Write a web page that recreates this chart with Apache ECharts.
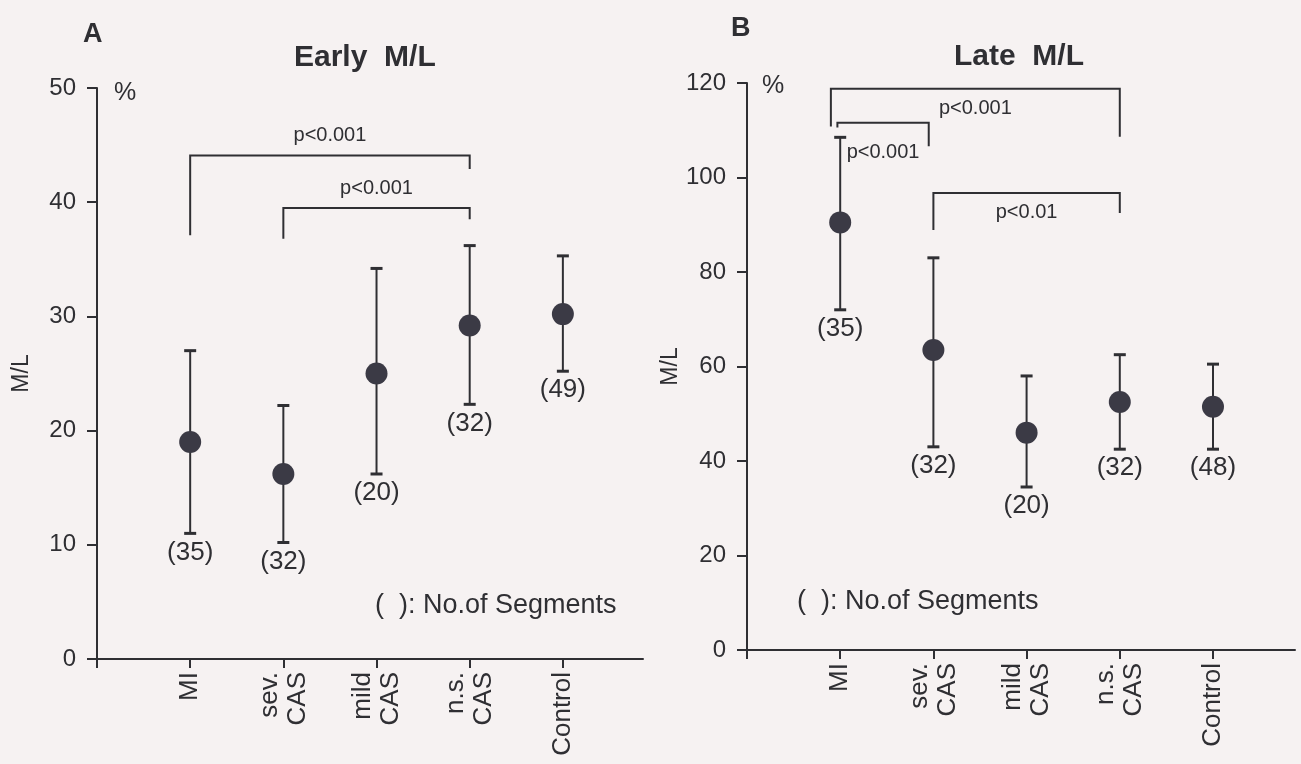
<!DOCTYPE html>
<html>
<head>
<meta charset="utf-8">
<title>Early / Late M/L</title>
<script src="https://cdn.jsdelivr.net/npm/echarts@6/dist/echarts.min.js"></script>
<style>
  html, body { margin: 0; padding: 0; background: #f6f2f2; }
  #main { width: 1301px; height: 764px; }
</style>
</head>
<body>
<div id="main"></div>
<script>
var groups = ['MI', 'sev.\nCAS', 'mild\nCAS', 'n.s.\nCAS', 'Control'];

// panel A - early M/L (%)
var earlyMean = [19, 16.2, 25, 29.2, 30.2];
var earlyHigh = [27, 22.2, 34.2, 36.2, 35.3];
var earlyLow  = [11, 10.2, 16.2, 22.3, 25.2];
var earlyN    = [35, 32, 20, 32, 49];
var earlyTicks = [0, 10, 20, 30, 40, 50];
// brackets: [left x, right x, top, left foot, right foot, text level]
var earlyBrackets = [
  [0, 3, 44.1, 37.1, 42.9, 45.8],
  [1, 3, 39.5, 36.8, 38.5, 41.2]
];
var earlyBracketText = ['p<0.001', 'p<0.001'];

// panel B - late M/L (%)
var lateMean = [90.5, 63.5, 46, 52.5, 51.5];
var lateHigh = [108.5, 83, 58, 62.5, 60.5];
var lateLow  = [72, 43, 34.5, 42.5, 42.5];
var lateN    = [35, 32, 20, 32, 48];
var lateTicks = [0, 20, 40, 60, 80, 100, 120];
var lateBrackets = [
  [-0.1, 3, 118.8, 110.8, 108.6, 114.6],
  [-0.03, 0.95, 111.6, 110.6, 106.6, 105.2],
  [1, 3, 96.7, 88.9, 92.5, 92.7]
];
var lateBracketText = ['p<0.001', 'p<0.001', 'p<0.01'];

var ink = '#2f2f33';
var dot = '#3b3a45';
var font = '"Liberation Sans", Arial, Helvetica, sans-serif';

function xAxisFor(gi, max) {
  return {
    type: 'value', gridIndex: gi, min: -1, max: max, interval: 1,
    splitLine: { show: false },
    axisLine: { onZero: false, lineStyle: { color: ink, width: 2 } },
    axisTick: { length: 9, lineStyle: { color: ink, width: 2 }, customValues: [-1, 0, 1, 2, 3, 4] },
    axisLabel: {
      rotate: 90, margin: 13, color: ink, fontSize: 26, fontFamily: font, lineHeight: 28,
      customValues: [0, 1, 2, 3, 4],
      formatter: function (v) { return groups[Math.round(v)] || ''; }
    }
  };
}

function yAxisFor(gi, ticks) {
  return {
    type: 'value', gridIndex: gi,
    min: ticks[0], max: ticks[ticks.length - 1], interval: ticks[1] - ticks[0],
    name: 'M/L', nameLocation: 'middle', nameRotate: 90, nameGap: 64,
    nameTextStyle: { color: ink, fontSize: 23, fontFamily: font },
    splitLine: { show: false },
    axisLine: { show: true, onZero: false, lineStyle: { color: ink, width: 2 } },
    axisTick: { show: true, length: 10, lineStyle: { color: ink, width: 2 } },
    axisLabel: { margin: 21, color: ink, fontSize: 24, fontFamily: font }
  };
}

function errorSeries(gi, low, high, n) {
  return {
    type: 'custom', xAxisIndex: gi, yAxisIndex: gi, silent: true, z: 3,
    encode: { x: 0, y: [1, 2] },
    data: low.map(function (l, i) { return [i, l, high[i], n[i]]; }),
    renderItem: function (params, api) {
      var x = api.value(0);
      var lo = api.coord([x, api.value(1)]);
      var hi = api.coord([x, api.value(2)]);
      var cap = 6;
      return {
        type: 'group',
        children: [
          { type: 'line', shape: { x1: hi[0], y1: hi[1], x2: lo[0], y2: lo[1] },
            style: { stroke: ink, lineWidth: 2 } },
          { type: 'line', shape: { x1: hi[0] - cap, y1: hi[1], x2: hi[0] + cap, y2: hi[1] },
            style: { stroke: ink, lineWidth: 3 } },
          { type: 'line', shape: { x1: lo[0] - cap, y1: lo[1], x2: lo[0] + cap, y2: lo[1] },
            style: { stroke: ink, lineWidth: 3 } },
          { type: 'text', style: { text: '(' + api.value(3) + ')', x: lo[0], y: lo[1] + 6,
            align: 'center', verticalAlign: 'top', fill: ink, font: '26px ' + font } }
        ]
      };
    }
  };
}

function meanSeries(gi, mean) {
  return {
    type: 'scatter', xAxisIndex: gi, yAxisIndex: gi, silent: true, z: 4,
    symbol: 'circle', symbolSize: 22,
    itemStyle: { color: dot, opacity: 1 },
    data: mean.map(function (m, i) { return [i, m]; })
  };
}

function bracketSeries(gi, list, texts) {
  return {
    type: 'custom', xAxisIndex: gi, yAxisIndex: gi, silent: true, z: 2,
    encode: { x: [0, 1], y: [2, 3, 4] },
    data: list,
    renderItem: function (params, api) {
      var a = api.coord([api.value(0), api.value(3)]);
      var b = api.coord([api.value(0), api.value(2)]);
      var c = api.coord([api.value(1), api.value(2)]);
      var d = api.coord([api.value(1), api.value(4)]);
      var t = api.coord([(api.value(0) + api.value(1)) / 2, api.value(5)]);
      return {
        type: 'group',
        children: [
          { type: 'polyline', shape: { points: [a, b, c, d] },
            style: { stroke: ink, lineWidth: 2, fill: null } },
          { type: 'text', style: { text: texts[params.dataIndex], x: t[0], y: t[1],
            align: 'center', verticalAlign: 'middle', fill: ink, font: '20px ' + font } }
        ]
      };
    }
  };
}

function label(text, x, y, size, bold) {
  return {
    type: 'text', left: x, top: y, silent: true,
    style: { text: text, fill: ink, font: (bold ? 'bold ' : '') + size + 'px ' + font }
  };
}

var chart = echarts.init(document.getElementById('main'));

var option = {
  backgroundColor: '#f6f2f2',
  animation: false,
  grid: [
    { left: 97, top: 88, width: 546, height: 571 },
    { left: 747, top: 83, width: 548, height: 567 }
  ],
  xAxis: [xAxisFor(0, 4.86), xAxisFor(1, 4.88)],
  yAxis: [yAxisFor(0, earlyTicks), yAxisFor(1, lateTicks)],
  series: [
    bracketSeries(0, earlyBrackets, earlyBracketText),
    errorSeries(0, earlyLow, earlyHigh, earlyN),
    meanSeries(0, earlyMean),
    bracketSeries(1, lateBrackets, lateBracketText),
    errorSeries(1, lateLow, lateHigh, lateN),
    meanSeries(1, lateMean)
  ],
  graphic: [
    label('A', 83, 21, 27, true),
    label('Early  M/L', 294, 43, 30, true),
    label('%', 114, 81, 25, false),
    label('(  ): No.of Segments', 375, 592, 27, false),
    label('B', 731, 15, 27, true),
    label('Late  M/L', 954, 42, 30, true),
    label('%', 762, 74, 25, false),
    label('(  ): No.of Segments', 797, 588, 27, false)
  ]
};

chart.setOption(option);
</script>
</body>
</html>
